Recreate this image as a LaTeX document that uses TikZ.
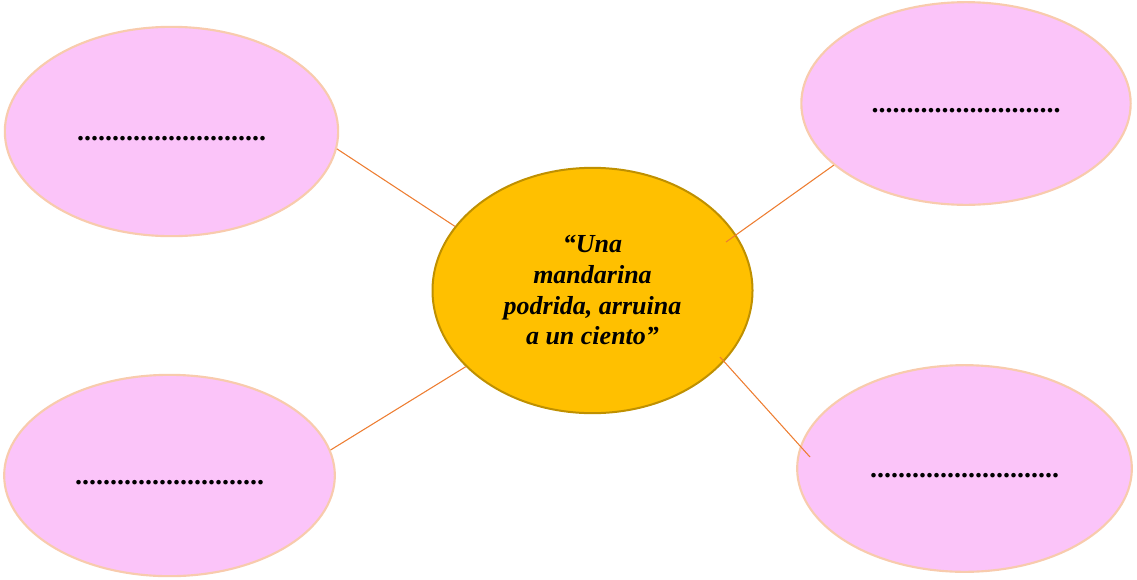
\documentclass[tikz,border=0pt]{standalone}
\usepackage{fontspec}
\setmainfont{Liberation Serif}
\usepackage{tikz}
\usetikzlibrary{shapes.geometric, positioning, calc}
\usepackage{xcolor}
\definecolor{leafpink}{HTML}{FBC4F9}
\definecolor{leafedge}{HTML}{F8CBAD}
\definecolor{hubgold}{HTML}{FFC000}
\definecolor{hubedge}{HTML}{BF9000}
\definecolor{linkorange}{HTML}{ED7D31}

\begin{document}
\begin{tikzpicture}[x=0.75pt, y=-0.75pt,
        leaf/.style={ellipse, fill=leafpink, draw=leafedge, line width=1.6pt, inner sep=0pt},
        hub/.style={ellipse, fill=hubgold, draw=hubedge, line width=1.5pt, inner sep=0pt,
            minimum width=240pt, minimum height=184pt, align=center,
            font=\fontsize{19.5}{23}\selectfont\bfseries\itshape},
        link/.style={draw=linkorange, line width=0.8pt},
        blank/.style={font=\fontsize{21}{24}\selectfont\bfseries}]
            \useasboundingbox (0,0) rectangle (1137,579);
            % center and the four ellipses round it
            \node[hub] (mid) at (592.5,290.5) {“Una\\ mandarina\\ podrida, arruina\\ a un ciento”};
            \node[leaf, minimum width=250pt, minimum height=157pt] (tl) at (171.5,131.5) {};
            \node[leaf, minimum width=247pt, minimum height=152pt] (tr) at (966,103.5) {};
            \node[leaf, minimum width=248pt, minimum height=151pt] (bl) at (169.5,475.5) {};
            \node[leaf, minimum width=251pt, minimum height=155pt] (br) at (964.5,468.5) {};
            \foreach \n in {tl, tr, bl, br}
                \node[blank, yshift=-2pt] at (\n.center) {\strut...........................};
            % free ends that lie inside the ellipses
            \coordinate (trin) at (726,242);
            \coordinate (brin) at (720,357);
            \coordinate (brout) at (810,457);
            \draw[link] (tl.-6) -- (mid.155);
            \draw[link] (bl.9) -- (mid.211);
            \draw[link] (tr.205) -- (trin);
            \draw[link] (brin) -- (brout);
        \end{tikzpicture}
\end{document}
